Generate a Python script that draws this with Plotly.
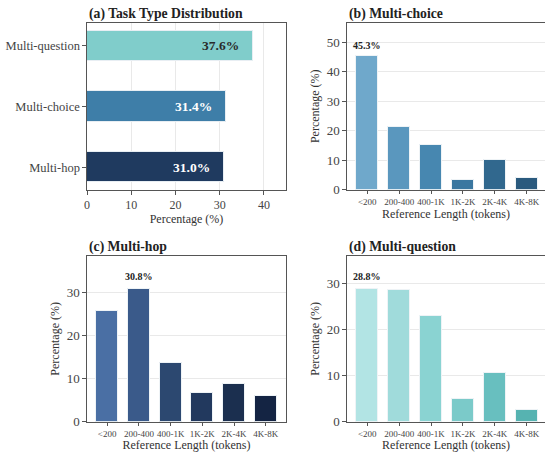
import plotly.graph_objects as go
from plotly.subplots import make_subplots

# ---- data ----
task_types = ["Multi-hop", "Multi-choice", "Multi-question"]
task_pct = [31.0, 31.4, 37.6]
task_colors = ["#1F3A5F", "#3E7EA8", "#80CDCB"]
task_label_colors = ["white", "white", "#2a2a2a"]

length_bins = ["<200", "200-400", "400-1K", "1K-2K", "2K-4K", "4K-8K"]
mc_pct = [45.3, 21.4, 15.3, 3.2, 9.9, 3.9]
mh_pct = [25.8, 30.8, 13.6, 6.7, 8.8, 6.0]
mq_pct = [28.8, 28.7, 23.0, 4.9, 10.5, 2.6]

mc_colors = ["#6FA8CB", "#5A97BE", "#4787B0", "#3A77A0", "#31688E", "#2A5A7E"]
mh_colors = ["#4A6FA4", "#3A5A8A", "#2C4870", "#22395E", "#1B2F4F", "#142443"]
mq_colors = ["#B2E4E4", "#A0DBDB", "#8AD3D2", "#7BCAC9", "#68BFBF", "#56B3B1"]

titles = ["(a) Task Type Distribution", "(b) Multi-choice", "(c) Multi-hop", "(d) Multi-question"]

W, H = 545, 452
FONT = "Liberation Serif, Times New Roman, Times, serif"
SPINE = "#555555"
GRID = "#e9e9e9"
TICKC = "#444444"

fig = make_subplots(rows=2, cols=2)

# reference pixel layout -> paper domains
def xd(l, r):
    return [l / W, min(r / W, 1.0)]

def yd(t, b):
    return [1 - b / H, 1 - t / H]

dom = {
    1: (xd(87, 286), yd(23, 190)),
    2: (xd(347, 547), yd(23, 189.5)),
    3: (xd(87, 286), yd(256, 421.7)),
    4: (xd(347, 547), yd(256, 421.7)),
}

# (a) horizontal bars
fig.add_trace(go.Bar(
    y=task_types, x=task_pct, orientation="h", width=0.5,
    marker=dict(color=task_colors, line=dict(color="#e8eef3", width=1)),
    showlegend=False, hoverinfo="skip"), row=1, col=1)

for t, v, c in zip(task_types, task_pct, task_label_colors):
    fig.add_annotation(x=v - 2, y=t, xref="x", yref="y", text=f"<b>{v:.1f}%</b>",
                       showarrow=False, xanchor="right", yanchor="middle", xshift=-3,
                       font=dict(family=FONT, size=13.5, color=c))

panels = [(2, 1, 2, mc_pct, mc_colors), (3, 2, 1, mh_pct, mh_colors), (4, 2, 2, mq_pct, mq_colors)]
for idx, r, c, vals, cols in panels:
    fig.add_trace(go.Bar(
        x=length_bins, y=vals, width=0.7,
        marker=dict(color=cols, line=dict(color="#eef3f6", width=1)),
        showlegend=False, hoverinfo="skip"), row=r, col=c)
    m = max(vals)
    i = vals.index(m)
    fig.add_annotation(x=length_bins[i], y=m + 1, xref=f"x{idx}", yref=f"y{idx}",
                       text=f"<b>{m:.1f}%</b>", showarrow=False, yanchor="middle",
                       yshift=8, font=dict(family=FONT, size=10, color="#222222"))

common_axis = dict(showline=True, linecolor=SPINE, linewidth=1.2, ticks="outside",
                   ticklen=3.5, tickwidth=1, tickcolor=SPINE, zeroline=False,
                   automargin=False,
                   tickfont=dict(family=FONT, size=12, color=TICKC))

# axis (a)
fig.update_xaxes(domain=dom[1][0], range=[0, 45], tickvals=[0, 10, 20, 30, 40],
                 showgrid=True, gridcolor=GRID, gridwidth=1, mirror=True,
                 title=dict(text="Percentage (%)", standoff=0,
                            font=dict(family=FONT, size=12, color="#333333")),
                 row=1, col=1, **common_axis)
fig.update_yaxes(domain=dom[1][1], type="category", categoryorder="array",
                 categoryarray=task_types, range=[-0.375, 2.375], showgrid=False,
                 mirror=True, row=1, col=1,
                 **{**common_axis, "tickfont": dict(family=FONT, size=12.5, color=TICKC)})

ymax = {2: max(mc_pct) * 1.25, 3: max(mh_pct) * 1.25, 4: max(mq_pct) * 1.25}
ticks = {2: [0, 10, 20, 30, 40, 50], 3: [0, 10, 20, 30], 4: [0, 10, 20, 30]}
for idx, r, c, vals, cols in panels:
    xdom = dom[idx][0]
    if idx in (2, 4):
        width_px = (xdom[1] - xdom[0]) * W
        xr = [-0.635, -0.635 + width_px / 31.9]
        ymir = False
    else:
        xr = [-0.635, 5.635]
        ymir = True
    fig.update_xaxes(domain=xdom, type="category", range=xr, showgrid=False, mirror=True,
                     title=dict(text="Reference Length (tokens)", standoff=3,
                                font=dict(family=FONT, size=12, color="#333333")),
                     row=r, col=c, **{**common_axis,
                                      "tickfont": dict(family=FONT, size=9, color=TICKC)})
    fig.update_yaxes(domain=dom[idx][1], range=[0, ymax[idx]], tickvals=ticks[idx],
                     showgrid=True, gridcolor=GRID, gridwidth=1, mirror=ymir,
                     title=dict(text="Percentage (%)", standoff=4,
                                font=dict(family=FONT, size=12, color="#333333")),
                     row=r, col=c, **{**common_axis,
                                      "tickfont": dict(family=FONT, size=13, color=TICKC)})

# panel titles
title_pos = [(87, 14), (347, 14), (87, 247), (347, 247)]
for t, (px, py) in zip(titles, title_pos):
    fig.add_annotation(x=px / W, y=1 - py / H, xref="paper", yref="paper",
                       text=f"<b>{t}</b>", showarrow=False, xanchor="left", yanchor="middle",
                       font=dict(family=FONT, size=13.7, color="#222222"))

fig.update_layout(width=W, height=H, margin=dict(l=0, r=0, t=0, b=0),
                  plot_bgcolor="white", paper_bgcolor="white", bargap=0,
                  font=dict(family=FONT, color="#333333"))

fig.write_html("out.html", config={"displayModeBar": False},
               post_script="document.body.style.margin='0px';")
